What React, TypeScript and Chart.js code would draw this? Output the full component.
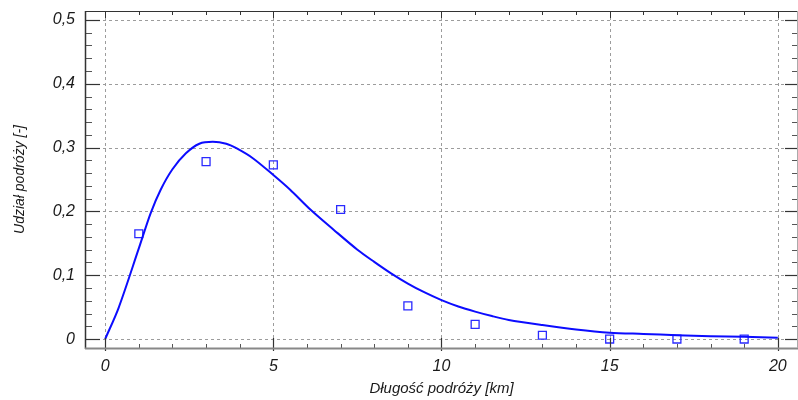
import React, { useEffect, useRef } from 'react';
import { Chart, registerables } from 'chart.js';

Chart.register(...registerables);

// Fitted curve
const curveX = [0, 0.4, 1, 1.35, 1.65, 2, 2.4, 2.8, 3.2, 3.6, 3.9, 4.4, 5, 5.5, 6.1, 6.8, 7.5, 8, 8.5, 9, 9.5, 10, 10.5, 11, 11.5, 12, 13, 14, 15, 16, 17, 18, 19, 20];
const curveY = [0, 0.049, 0.142, 0.197, 0.234, 0.266, 0.291, 0.306, 0.309, 0.306, 0.299, 0.283, 0.257, 0.234, 0.203, 0.171, 0.140, 0.121, 0.103, 0.087, 0.073, 0.061, 0.051, 0.043, 0.036, 0.030, 0.022, 0.015, 0.010, 0.008, 0.006, 0.0045, 0.0036, 0.002];

// Observed shares
const obsX = [1, 3, 5, 7, 9, 11, 13, 15, 17, 19];
const obsY = [0.165, 0.278, 0.273, 0.203, 0.052, 0.023, 0.006, 0.0, 0.0, 0.0];

// Axis ticks
const xTicks = [0, 5, 10, 15, 20];
const yTicks = [0, 0.1, 0.2, 0.3, 0.4, 0.5];
const xMinorStep = 1;
const yMinorStep = 0.02;

const xTitle = 'Długość podróży [km]';
const yTitle = 'Udział podróży [-]';

const FONT = '"Liberation Sans", Arial, sans-serif';

const framePlugin = {
  id: 'frame',
  beforeDatasetsDraw(chart: any) {
    const { ctx, chartArea: a, scales } = chart;
    const x = scales.x, y = scales.y;
    ctx.save();
    ctx.strokeStyle = '#9c9c9c';
    ctx.lineWidth = 1;
    ctx.setLineDash([3, 3]);
    for (const v of xTicks) {
      const px = Math.round(x.getPixelForValue(v)) + 0.5;
      ctx.beginPath(); ctx.moveTo(px, a.top); ctx.lineTo(px, a.bottom); ctx.stroke();
    }
    for (const v of yTicks) {
      const py = Math.round(y.getPixelForValue(v)) + 0.5;
      ctx.beginPath(); ctx.moveTo(a.left, py); ctx.lineTo(a.right, py); ctx.stroke();
    }
    ctx.restore();
  },
  afterDraw(chart: any) {
    const { ctx, chartArea: a, scales } = chart;
    const x = scales.x, y = scales.y;
    ctx.save();
    ctx.setLineDash([]);
    const seg = (x1: number, y1: number, x2: number, y2: number, c: string, w: number) => {
      ctx.strokeStyle = c; ctx.lineWidth = w;
      ctx.beginPath(); ctx.moveTo(x1, y1); ctx.lineTo(x2, y2); ctx.stroke();
    };
    for (let i = 0; i <= 20; i += xMinorStep) {
      const px = Math.round(x.getPixelForValue(i)) + 0.5;
      const major = xTicks.includes(i);
      if (major) seg(px, a.bottom - 10, px, a.bottom + 3, '#333', 1.2);
      else seg(px, a.bottom - 4, px, a.bottom, '#555', 1);
      seg(px, a.top, px, a.top + (major ? 7 : 4), '#333', 1);
    }
    for (let k = 0; k <= 25; k++) {
      const v = k * yMinorStep;
      const py = Math.round(y.getPixelForValue(v)) + 0.5;
      const major = k % 5 === 0;
      if (major) {
        seg(a.left, py, a.left + 15, py, '#333', 1.2);
        seg(a.right - 13, py, a.right, py, '#333', 1.2);
      } else {
        seg(a.left, py, a.left + 7, py, '#555', 1);
        seg(a.right - 6, py, a.right, py, '#555', 1);
      }
    }
    seg(a.left + 0.5, a.top, a.left + 0.5, a.bottom + 1, '#333', 1.5);
    seg(a.left, a.top + 0.5, a.right, a.top + 0.5, '#333', 1);
    seg(a.left, a.bottom + 0.5, a.right, a.bottom + 0.5, '#888', 2);
    seg(a.right - 0.5, a.top, a.right - 0.5, a.bottom, '#aaa', 1);
    ctx.restore();
  },
};

export default function App() {
  const ref = useRef<HTMLCanvasElement | null>(null);

  useEffect(() => {
    document.body.style.margin = '0';
    const canvas = ref.current;
    if (!canvas) return;
    const chart = new Chart(canvas, {
      type: 'scatter',
      data: {
        datasets: [
          {
            label: 'obs',
            data: obsX.map((v, i) => ({ x: v, y: obsY[i] })),
            showLine: false,
            pointStyle: 'rect',
            pointRadius: 5.6,
            pointHoverRadius: 5.6,
            pointBorderWidth: 1.3,
            pointBorderColor: '#2a2aff',
            pointBackgroundColor: 'rgba(0,0,0,0)',
            order: 2,
          },
          {
            label: 'fit',
            data: curveX.map((v, i) => ({ x: v, y: curveY[i] })),
            showLine: true,
            borderColor: 'rgb(12,12,255)',
            borderWidth: 2,
            pointRadius: 0,
            pointHoverRadius: 0,
            tension: 0.3,
            order: 1,
          },
        ],
      },
      options: {
        animation: false,
        responsive: false,
        devicePixelRatio: 1,
        layout: { autoPadding: false, padding: { top: 11, right: 0, left: 0, bottom: 0 } },
        plugins: {
          legend: { display: false },
          tooltip: { enabled: false },
        },
        scales: {
          x: {
            type: 'linear',
            min: -0.6,
            max: 20.6,
            afterBuildTicks: (axis: any) => { axis.ticks = xTicks.map((v) => ({ value: v })); },
            afterFit: (axis: any) => {
              axis.height = 52;
              axis.paddingLeft = 0; axis.paddingRight = 0;
              axis.paddingTop = 0; axis.paddingBottom = 0;
            },
            grid: { display: false, drawTicks: false },
            border: { display: false },
            ticks: {
              font: { family: FONT, size: 16, style: 'italic' },
              color: '#1a1a1a',
              padding: 9,
              maxRotation: 0,
              callback: (v: any) => String(v),
            },
            title: {
              display: true,
              text: xTitle,
              font: { family: FONT, size: 15, style: 'italic' },
              color: '#1a1a1a',
              padding: { top: 0, bottom: 2 },
            },
          },
          y: {
            type: 'linear',
            min: -0.014,
            max: 0.514,
            afterBuildTicks: (axis: any) => { axis.ticks = yTicks.map((v) => ({ value: v })); },
            afterFit: (axis: any) => {
              axis.width = 85;
              axis.paddingLeft = 0; axis.paddingRight = 0;
              axis.paddingTop = 0; axis.paddingBottom = 0;
            },
            grid: { display: false, drawTicks: false },
            border: { display: false },
            ticks: {
              font: { family: FONT, size: 16, style: 'italic' },
              color: '#1a1a1a',
              padding: 10,
              callback: (v: any) => (Math.abs(v) < 1e-9 ? '0' : Number(v).toFixed(1).replace('.', ',')),
            },
            title: {
              display: true,
              text: yTitle,
              font: { family: FONT, size: 14, style: 'italic' },
              color: '#1a1a1a',
              padding: { top: 12, bottom: 0 },
            },
          },
        },
      },
      plugins: [framePlugin],
    } as any);
    return () => chart.destroy();
  }, []);

  return (
    <div style={{ width: 798, height: 400, background: '#fff' }}>
      <canvas ref={ref} width={798} height={400} style={{ display: 'block' }} />
    </div>
  );
}
